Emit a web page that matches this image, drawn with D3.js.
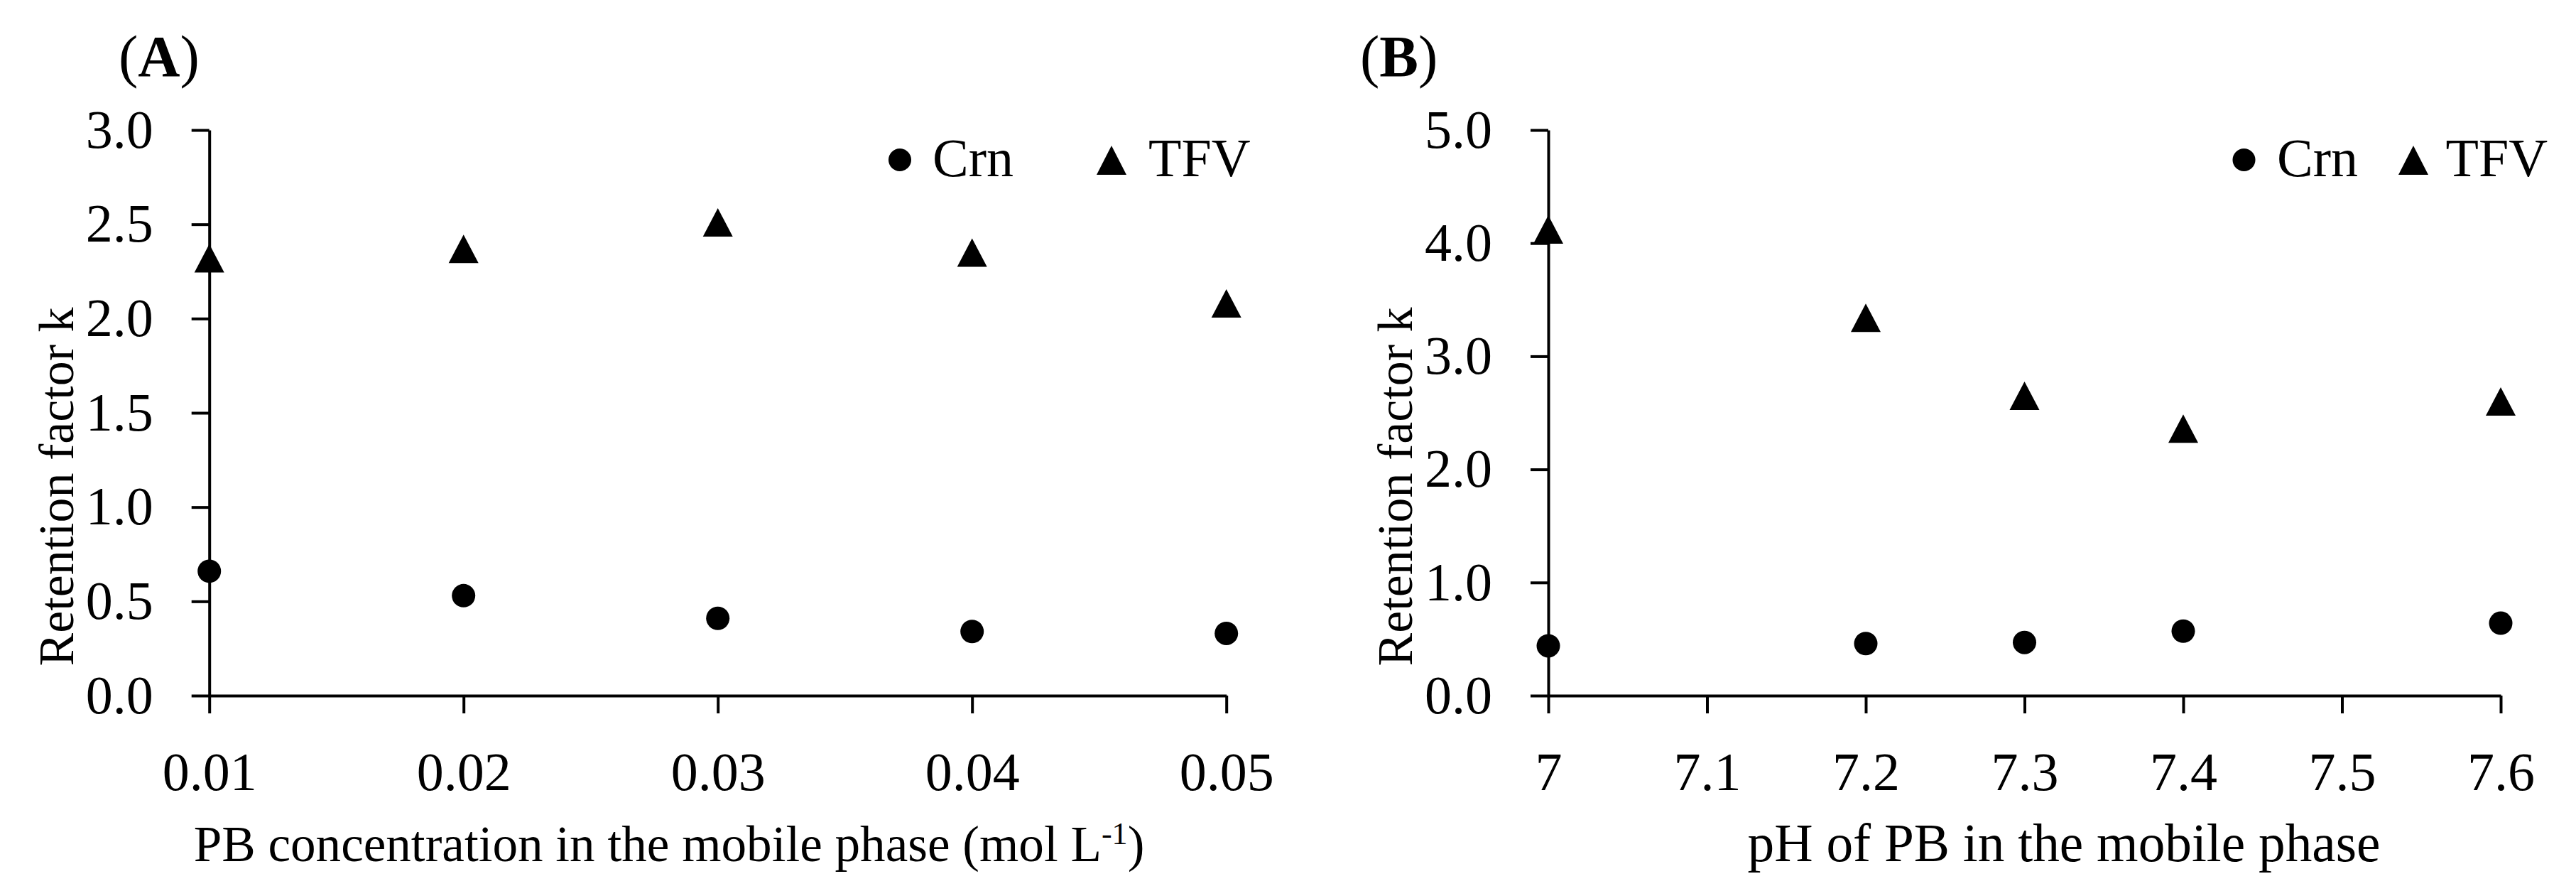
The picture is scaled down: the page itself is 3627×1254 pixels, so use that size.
<!DOCTYPE html>
<html>
<head>
<meta charset="utf-8">
<script src="https://cdn.jsdelivr.net/npm/d3@7"></script>
<style>
  html, body { margin: 0; padding: 0; background: #fff; }
  svg { display: block; }
</style>
</head>
<body>
<svg id="chart" width="3627" height="1254"></svg>
<script>
// panel A: PB concentration
var concX = [0.01, 0.02, 0.03, 0.04, 0.05];
var concCrn = [0.66, 0.53, 0.41, 0.34, 0.33];
var concTFV = [2.32, 2.37, 2.51, 2.35, 2.08];
var concTicksY = [0, 0.5, 1.0, 1.5, 2.0, 2.5, 3.0];

// panel B: pH
var phX = [7.0, 7.2, 7.3, 7.4, 7.6];
var phCrn = [0.44, 0.46, 0.47, 0.57, 0.64];
var phTFV = [4.12, 3.34, 2.65, 2.36, 2.60];
var phTicksX = [7.0, 7.1, 7.2, 7.3, 7.4, 7.5, 7.6];
var phTicksY = [0, 1, 2, 3, 4, 5];

var seriesNames = ["Crn", "TFV"];

var FONT = '"Palatino Linotype", "Book Antiqua", Palatino, "URW Palladio L", "Liberation Serif", serif';
var svg = d3.select("#chart").style("font-family", FONT);

// shrink or grow a text node's font so it spans the wanted width
function fitWidth(sel, target) {
    var w = sel.node().getComputedTextLength();
    var fs = parseFloat(sel.attr("font-size"));
    sel.attr("font-size", fs * target / w);
}

function drawPanel(p) {
    var g = svg.append("g");

    var x = d3.scaleLinear().domain(p.xDomain).range([p.left, p.right]);
    var y = d3.scaleLinear().domain(p.yDomain).range([979, 183]);

    // y axis
    var yAxis = g.append("g")
        .attr("transform", "translate(" + p.left + ",0)")
        .call(d3.axisLeft(y).tickValues(p.yTicks).tickSize(25).tickSizeOuter(0)
            .tickPadding(54).tickFormat(d3.format(".1f")));

    // x axis
    var xAxis = g.append("g")
        .attr("transform", "translate(0,979)")
        .call(d3.axisBottom(x).tickValues(p.xTicks).tickSize(25).tickSizeOuter(0)
            .tickFormat(p.xFormat));

    [yAxis, xAxis].forEach(function(a) {
        a.selectAll("path, line").attr("stroke", "#000").attr("stroke-width", 4);
        a.selectAll("text")
            .attr("fill", "#000")
            .attr("font-size", 76)
            .style("font-family", FONT);
    });
    xAxis.selectAll("text").attr("dy", null).attr("y", 133);

    // Crn circles
    g.selectAll("circle.crn")
        .data(p.xs)
        .enter().append("circle")
        .attr("class", "crn")
        .attr("cx", function(d) { return x(d); })
        .attr("cy", function(d, i) { return y(p.crn[i]); })
        .attr("r", 16.5)
        .attr("fill", "#000");

    // TFV triangles, box centred on the value
    g.selectAll("path.tfv")
        .data(p.xs)
        .enter().append("path")
        .attr("class", "tfv")
        .attr("d", function(d, i) {
            var cx = x(d), cy = y(p.tfv[i]);
            return "M" + cx + "," + (cy - 20) + "L" + (cx + 21) + "," + (cy + 20) +
                "L" + (cx - 21) + "," + (cy + 20) + "Z";
        })
        .attr("fill", "#000");

    // legend
    var lg = g.append("g");
    lg.append("circle").attr("cx", p.legend[0]).attr("cy", 225).attr("r", 16).attr("fill", "#000");
    lg.append("text").attr("x", p.legend[1]).attr("y", 248).attr("font-size", 76).text(seriesNames[0]);
    lg.append("path")
        .attr("d", "M" + p.legend[2] + ",205L" + (p.legend[2] + 21) + ",246L" + (p.legend[2] - 21) + ",246Z")
        .attr("fill", "#000");
    lg.append("text").attr("x", p.legend[3]).attr("y", 248).attr("font-size", 76).text(seriesNames[1]);

    // panel letter
    var lab = g.append("text").attr("x", p.labelX).attr("y", 107).attr("font-size", 82);
    lab.append("tspan").text("(");
    lab.append("tspan").attr("font-weight", "bold").text(p.letter);
    lab.append("tspan").text(")");

    // y title
    var yt = g.append("text")
        .attr("transform", "translate(" + (p.left - 192) + ",685) rotate(-90)")
        .attr("text-anchor", "middle")
        .attr("font-size", 70)
        .text("Retention factor k");
    fitWidth(yt, 505);

    // x title
    var xt = g.append("text")
        .attr("x", p.xTitleX)
        .attr("y", 1212)
        .attr("text-anchor", "middle")
        .attr("font-size", 64);
    xt.append("tspan").text(p.xTitle[0]);
    if (p.xTitle[1]) {
        xt.append("tspan").attr("dy", -24).style("font-size", "0.62em").text(p.xTitle[1]);
        xt.append("tspan").attr("dy", 24).text(p.xTitle[2]);
    }
    fitWidth(xt, p.xTitleW);
}

drawPanel({
    letter: "A", labelX: 167,
    left: 294.7, right: 1726.7,
    xDomain: [0.01, 0.05], yDomain: [0, 3],
    xTicks: concX, yTicks: concTicksY,
    xFormat: d3.format(".2f"),
    xs: concX, crn: concCrn, tfv: concTFV,
    legend: [1267, 1313, 1565, 1617],
    xTitle: ["PB concentration in the mobile phase (mol L", "-1", ")"],
    xTitleX: 942, xTitleW: 1339
});

drawPanel({
    letter: "B", labelX: 1915,
    left: 2180, right: 3521,
    xDomain: [7.0, 7.6], yDomain: [0, 5],
    xTicks: phTicksX, yTicks: phTicksY,
    xFormat: function(d) { return d === 7 ? "7" : d3.format(".1f")(d); },
    xs: phX, crn: phCrn, tfv: phTFV,
    legend: [3159.5, 3206, 3398, 3443.5],
    xTitle: ["pH of PB in the mobile phase"],
    xTitleX: 2906, xTitleW: 891
});
</script>
</body>
</html>
